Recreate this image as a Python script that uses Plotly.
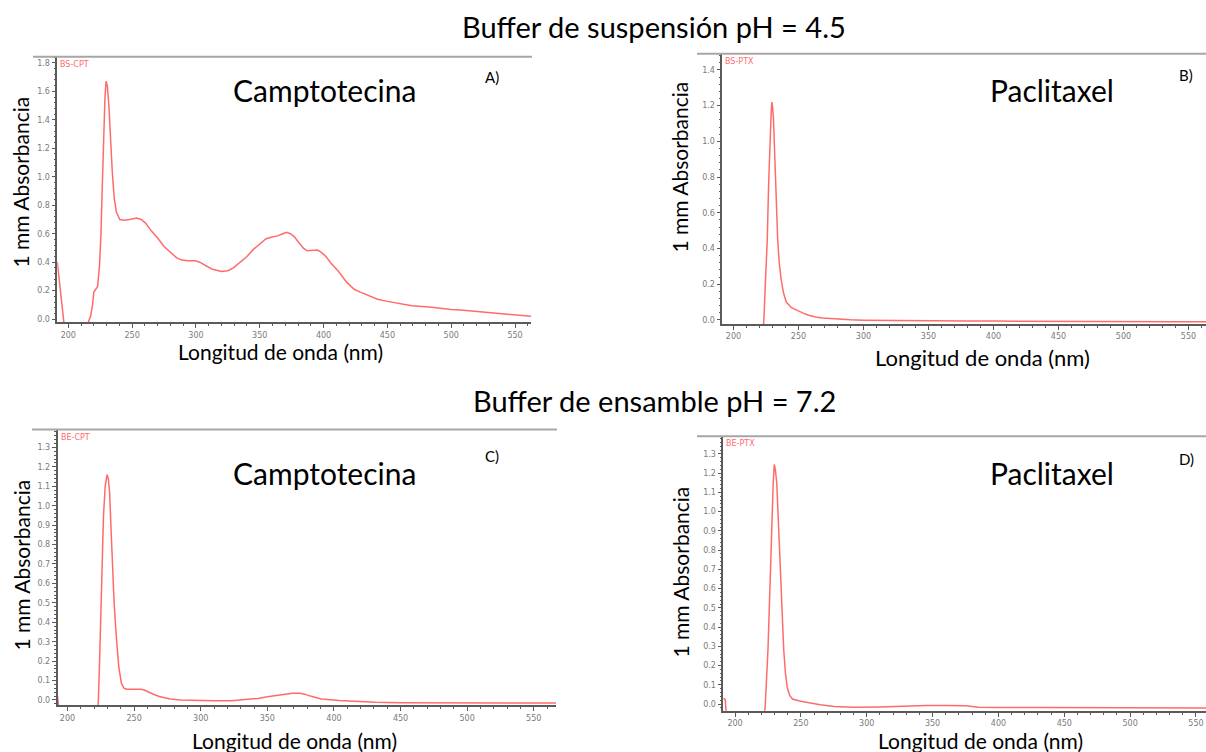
import plotly.graph_objects as go

W, H = 1206, 752

# ---------------- data ----------------
# A) BS-CPT  (Camptotecina, buffer de suspension pH 4.5)
wl_a = [191.4, 193, 195, 197, 214, 216, 217.5, 219, 220, 221.5,
        223, 224.5, 225.6, 226.7, 227.7, 228.7, 229.6, 230.6, 231.8, 233,
        234.5, 236, 237.7, 240.4, 244, 248, 253.8, 257, 260.6, 265,
        270, 275, 280.8, 285, 289, 294, 299.6, 303, 307.8, 313,
        319.9, 325, 329.3, 335, 340, 345, 350.8, 355, 358.9, 364,
        368, 371, 374, 377, 380.4, 384, 387.1, 391, 395.2, 398,
        401.9, 406, 411.3, 418, 424, 428.8, 435, 442.3, 450, 455.7,
        469.2, 482.7, 490.8, 500, 509.6, 523.1, 536.6, 550, 562.5]
abs_a = [0.40, 0.25, 0.08, -0.06, -0.06, -0.01, 0.02, 0.10, 0.19, 0.21,
         0.23, 0.38, 0.60, 0.95, 1.28, 1.55, 1.67, 1.64, 1.50, 1.27,
         1.03, 0.85, 0.75, 0.70, 0.695, 0.70, 0.71, 0.70, 0.675, 0.62,
         0.57, 0.51, 0.46, 0.43, 0.415, 0.41, 0.41, 0.40, 0.375, 0.35,
         0.335, 0.34, 0.36, 0.40, 0.44, 0.49, 0.53, 0.565, 0.575, 0.585,
         0.60, 0.61, 0.60, 0.58, 0.54, 0.50, 0.48, 0.48, 0.485, 0.47,
         0.44, 0.39, 0.34, 0.26, 0.21, 0.19, 0.165, 0.14, 0.125, 0.115,
         0.095, 0.085, 0.075, 0.068, 0.062, 0.05, 0.04, 0.03, 0.02]

# B) BS-PTX  (Paclitaxel, buffer de suspension pH 4.5)
wl_b = [222.8, 223.4, 224.5, 226, 227, 228.1, 229, 229.5, 230.1, 230.8,
        232.1, 233, 234, 235.2, 236.6, 238.5, 240.6, 244.6, 249.9, 254,
        257.9, 263, 268.5, 275, 281.8, 290, 300, 320, 340, 360,
        380, 400, 420, 440, 460, 480, 500, 520, 540, 563.5]
abs_b = [-0.05, 0.0, 0.2, 0.45, 0.75, 1.02, 1.16, 1.22, 1.19, 1.12,
         0.83, 0.62, 0.45, 0.32, 0.23, 0.15, 0.10, 0.068, 0.048, 0.036,
         0.026, 0.016, 0.01, 0.006, 0.003, 0.0, -0.002, -0.004, -0.005, -0.006,
         -0.006, -0.007, -0.008, -0.008, -0.009, -0.009, -0.01, -0.01, -0.01, -0.01]

# C) BE-CPT  (Camptotecina, buffer de ensamble pH 7.2)
wl_c = [192.5, 193.5, 222.6, 223.2, 224.3, 225.5, 227, 228.3, 229.7, 230.6,
        231.6, 232.7, 233.8, 235, 236.5, 238.5, 240.5, 242.5, 244.6, 250,
        255.4, 258, 260.8, 265, 268.9, 273, 277, 285, 296, 310,
        323, 336.5, 343, 350, 357, 363.5, 369, 374.3, 378, 382.4,
        390.5, 404, 417.6, 431, 450, 480, 510, 540, 566.7]
abs_c = [0.02, -0.05, -0.05, 0.0, 0.25, 0.55, 0.945, 1.10, 1.16, 1.14,
         1.07, 0.88, 0.685, 0.50, 0.34, 0.17, 0.085, 0.06, 0.055, 0.055,
         0.055, 0.05, 0.04, 0.028, 0.018, 0.01, 0.005, 0.0, -0.003, -0.004,
         -0.004, 0.002, 0.008, 0.017, 0.025, 0.03, 0.035, 0.035, 0.03, 0.02,
         0.005, -0.003, -0.008, -0.012, -0.014, -0.015, -0.015, -0.016, -0.016]

# D) BE-PTX  (Paclitaxel, buffer de ensamble pH 7.2)
wl_d = [191.1, 192.5, 193.5, 222.3, 223, 225, 226.5, 227.7, 229, 229.8,
        230.6, 231.7, 233, 234.3, 235.7, 237, 238.3, 239.6, 241.5, 243.6,
        248.9, 256.8, 264.7, 275.3, 290, 310, 330, 345, 360, 375,
        385, 400, 430, 460, 490, 520, 557.6]
abs_d = [0.03, 0.025, -0.06, -0.06, 0.0, 0.28, 0.6, 0.89, 1.15, 1.245,
         1.22, 1.15, 0.94, 0.71, 0.48, 0.28, 0.16, 0.087, 0.045, 0.026,
         0.016, 0.007, -0.004, -0.012, -0.016, -0.015, -0.01, -0.008, -0.007, -0.009,
         -0.016, -0.018, -0.018, -0.019, -0.019, -0.02, -0.02]

sample_tags = ["BS-CPT", "BS-PTX", "BE-CPT", "BE-PTX"]
drug_names = ["Camptotecina", "Paclitaxel", "Camptotecina", "Paclitaxel"]
panel_letters = ["A)", "B)", "C)", "D)"]
row_titles = ["Buffer de suspensión pH = 4.5", "Buffer de ensamble pH = 7.2"]
x_title = "Longitud de onda (nm)"
y_title = "1 mm Absorbancia"

# ---------------- layout helpers ----------------
def fx(px):
    return px / W

def fy(py):
    return 1 - py / H

FONT = "Lato"
LINE_RED = "#ff6b6b"
AXIS_COL = "#5a5a5a"
TICK_FONT = dict(family="DejaVu Sans", size=8, color="#7a7a7a")

panels = [
    dict(x=wl_a, y=abs_a, px=(57.3, 531), py=(57, 323.3), xr=(191.4, 562.5),
         yr=(-0.023, 1.842), dt=0.2, mdt=0.04, frame=(33, 532, 57)),
    dict(x=wl_b, y=abs_b, px=(722.3, 1206), py=(54, 325), xr=(191.4, 563.5),
         yr=(-0.024, 1.49), dt=0.2, mdt=0.04, frame=(697, 1206, 54)),
    dict(x=wl_c, y=abs_c, px=(57.5, 556), py=(430.7, 707.3), xr=(192.5, 566.7),
         yr=(-0.028, 1.392), dt=0.1, mdt=0.02, frame=(32, 557, 430.7)),
    dict(x=wl_d, y=abs_d, px=(723.3, 1206), py=(437.4, 712.7), xr=(191.1, 557.6),
         yr=(-0.035, 1.392), dt=0.1, mdt=0.02, frame=(697, 1206, 437.4)),
]

fig = go.Figure()
layout = dict(
    width=W, height=H, margin=dict(l=0, r=0, t=0, b=0),
    paper_bgcolor="white", plot_bgcolor="white", showlegend=False,
)
shapes = []
annotations = []

for i, p in enumerate(panels, start=1):
    xa = "x" if i == 1 else f"x{i}"
    ya = "y" if i == 1 else f"y{i}"
    fig.add_trace(go.Scatter(
        x=p["x"], y=p["y"], mode="lines", xaxis=xa, yaxis=ya,
        line=dict(color=LINE_RED, width=1.5), hoverinfo="skip",
    ))
    layout[f"xaxis{i if i > 1 else ''}"] = dict(
        domain=[fx(p["px"][0]), fx(p["px"][1])], anchor=ya,
        range=list(p["xr"]), tickmode="linear", tick0=200, dtick=50,
        ticks="outside", ticklen=4, tickcolor=AXIS_COL, tickwidth=1,
        showline=True, linecolor=AXIS_COL, linewidth=1.5,
        showgrid=False, zeroline=False, tickfont=TICK_FONT,
        minor=dict(dtick=10, tick0=200, ticks="outside", ticklen=2,
                   tickcolor=AXIS_COL, showgrid=False),
    )
    layout[f"yaxis{i if i > 1 else ''}"] = dict(
        domain=[fy(p["py"][1]), fy(p["py"][0])], anchor=xa,
        range=list(p["yr"]), tickmode="linear", tick0=0, dtick=p["dt"],
        tickformat=".1f", ticks="outside", ticklen=4, tickcolor=AXIS_COL,
        showline=True, linecolor=AXIS_COL, linewidth=1.5,
        showgrid=False, zeroline=False, tickfont=TICK_FONT,
        minor=dict(dtick=p["mdt"], tick0=0, ticks="outside", ticklen=2,
                   tickcolor=AXIS_COL, showgrid=False),
    )
    x0, x1, yy = p["frame"]
    shapes.append(dict(type="line", xref="paper", yref="paper",
                       x0=fx(x0), x1=fx(x1), y0=fy(yy), y1=fy(yy),
                       line=dict(color="#a6a6a6", width=2)))
    # red sample tag
    annotations.append(dict(
        text=sample_tags[i - 1], xref="paper", yref="paper",
        x=fx(p["px"][0] + 1), y=fy(p["py"][0] + 1), xanchor="left", yanchor="top",
        showarrow=False, font=dict(family="DejaVu Sans", size=8, color=LINE_RED)))

# positions (pixel centres) of free texts
drug_pos = [(324, 90), (1052, 90), (324, 474), (1052, 474)]
letter_pos = [(492, 77), (1186, 75), (492, 457), (1186, 460)]
ytitle_pos = [(21, 183), (680, 168), (21, 567), (680, 574)]
xtitle_pos = [(280, 352), (982, 358), (294, 742), (980, 742)]
xtitle_size = [21, 22, 21, 21]
rowtitle_pos = [(654, 27), (654, 402)]

for k in range(4):
    annotations.append(dict(text=drug_names[k], xref="paper", yref="paper",
                            x=fx(drug_pos[k][0]), y=fy(drug_pos[k][1]),
                            xanchor="center", yanchor="middle", showarrow=False,
                            font=dict(family=FONT, size=30, color="black")))
    annotations.append(dict(text=panel_letters[k], xref="paper", yref="paper",
                            x=fx(letter_pos[k][0]), y=fy(letter_pos[k][1]),
                            xanchor="center", yanchor="middle", showarrow=False,
                            font=dict(family=FONT, size=15, color="black")))
    annotations.append(dict(text=y_title, xref="paper", yref="paper",
                            x=fx(ytitle_pos[k][0]), y=fy(ytitle_pos[k][1]),
                            xanchor="center", yanchor="middle", showarrow=False,
                            textangle=-90,
                            font=dict(family=FONT, size=21, color="black")))
    annotations.append(dict(text=x_title, xref="paper", yref="paper",
                            x=fx(xtitle_pos[k][0]), y=fy(xtitle_pos[k][1]),
                            xanchor="center", yanchor="middle", showarrow=False,
                            font=dict(family=FONT, size=xtitle_size[k], color="black")))
for k in range(2):
    annotations.append(dict(text=row_titles[k], xref="paper", yref="paper",
                            x=fx(rowtitle_pos[k][0]), y=fy(rowtitle_pos[k][1]),
                            xanchor="center", yanchor="middle", showarrow=False,
                            font=dict(family=FONT, size=29, color="black")))

layout["shapes"] = shapes
layout["annotations"] = annotations
fig.update_layout(**layout)
fig.write_html("out.html")
